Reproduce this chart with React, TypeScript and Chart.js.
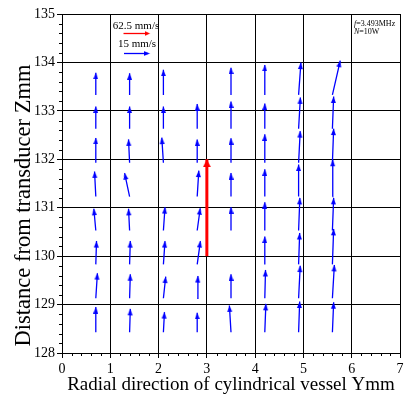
import React, { useEffect, useRef } from "react";
import { Chart, registerables } from "chart.js";

Chart.register(...registerables);

// ---------- data ----------
const xTickValues = [0, 1, 2, 3, 4, 5, 6, 7];
const yTickValues = [128, 129, 130, 131, 132, 133, 134, 135];
const xTitle = "Radial direction of cylindrical vessel Ymm";
const yTitle = "Distance from transducer Zmm";

// measurement grid (mm)
const columnY = [0.7, 1.4, 2.1, 2.8, 3.5, 4.2, 4.9, 5.6];
const rowZ = [133.33, 132.63, 131.93, 131.23, 130.53, 129.83, 129.13, 128.43];

// velocity components (mm/s), one list per column, rows top -> bottom; null = no vector
const velRadial: (number | null)[][] = [
  [0, 0, 0, -0.7, -1.1, 0.4, 0.9, 0],
  [0, 0, -0.6, -2.8, -0.6, 0.4, 0.4, 0.4],
  [0, 0, -0.9, null, 0.9, 0.9, 1.3, 0.6],
  [null, 0, 0, 0.9, 1.7, 1.8, 0.4, 0],
  [0, 0, 0, 0, 0, null, 0, -0.9],
  [0, 0, 0, 0, 0, 0, 0.4, 0.6],
  [1.3, 1.0, 0.9, 0, 0.7, 0.6, 0.9, 0.6],
  [4.4, 0.7, 0.7, 0.2, 0.7, 0.7, 1.1, 0.7],
];
const velAxial: (number | null)[][] = [
  [12.3, 12.4, 13.8, 14.0, 12.1, 13.0, 14.0, 14.0],
  [12.1, 12.4, 13.0, 13.1, 12.1, 13.0, 13.4, 13.0],
  [14.0, 12.4, 14.0, null, 13.0, 13.0, 12.1, 11.2],
  [null, 13.8, 13.0, 14.5, 12.4, 13.0, 12.4, 10.8],
  [15.2, 15.2, 13.7, 13.1, 13.0, null, 13.4, 14.9],
  [16.7, 14.1, 15.8, 15.2, 15.8, 15.5, 15.8, 15.8],
  [18.0, 17.5, 17.6, 17.9, 18.2, 17.5, 18.2, 17.1],
  [19.1, 18.0, 19.0, 20.5, 18.2, 19.8, 18.6, 16.7],
];
const velScale = 0.037; // plotted mm per mm/s

// jet (red) vector: tail and head
const jetRadial = [3, 3];
const jetAxial = [130, 132];

const legendLabels = ["62.5 mm/s", "15 mm/s"];
const conditionLabels = [
  ["f", "=3.493MHz"],
  ["N", "=10W"],
];

const FONT = "'Liberation Serif', 'Times New Roman', serif";
const BLUE = "#0000ff";
const RED = "#ff0000";

function makeHead(color: string, w: number, len: number) {
  const c = document.createElement("canvas");
  c.width = w;
  c.height = Math.ceil(len * 2);
  const g = c.getContext("2d")!;
  g.fillStyle = color;
  g.beginPath();
  g.moveTo(w / 2, c.height / 2);
  g.lineTo(w, c.height / 2 + len);
  g.lineTo(0, c.height / 2 + len);
  g.closePath();
  g.fill();
  return c;
}

export default function App() {
  const ref = useRef<HTMLCanvasElement | null>(null);

  useEffect(() => {
    if (!ref.current) return;
    const blueHead = makeHead(BLUE, 5, 6.5);
    const redHead = makeHead(RED, 8, 8);
    const redLegendHead = makeHead(RED, 5, 5.5);

    const blueShaft: any[] = [];
    const blueTips: any[] = [];
    columnY.forEach((cx, ci) => {
      rowZ.forEach((rz, ri) => {
        const u = velRadial[ci][ri];
        const v = velAxial[ci][ri];
        if (u == null || v == null) return;
        const hx = cx + u * velScale;
        const hy = rz + v * velScale;
        blueShaft.push({ x: cx, y: rz }, { x: hx, y: hy }, { x: hx, y: null });
        blueTips.push({ x: hx, y: hy, tx: cx, ty: rz });
      });
    });
    const redShaft = [
      { x: jetRadial[0], y: jetAxial[0] },
      { x: jetRadial[1], y: jetAxial[1] },
    ];
    const redTips = [{ x: jetRadial[1], y: jetAxial[1], tx: jetRadial[0], ty: jetAxial[0] }];

    const rot = (ctx: any) => {
      const r = ctx.raw;
      if (!r) return 0;
      const xs = ctx.chart.scales.x;
      const ys = ctx.chart.scales.y;
      const dx = xs.getPixelForValue(r.x) - xs.getPixelForValue(r.tx);
      const dy = ys.getPixelForValue(r.y) - ys.getPixelForValue(r.ty);
      return (Math.atan2(dx, -dy) * 180) / Math.PI;
    };

    const drawHeadPx = (ctx: CanvasRenderingContext2D, img: HTMLCanvasElement, x: number, y: number, ang: number) => {
      ctx.save();
      ctx.translate(x, y);
      ctx.rotate(ang);
      ctx.drawImage(img, -img.width / 2, -img.height / 2);
      ctx.restore();
    };

    const extras = {
      id: "extras",
      afterDraw(chart: any) {
        const ctx: CanvasRenderingContext2D = chart.ctx;
        const { left, right, top, bottom } = chart.chartArea;
        const xs = chart.scales.x;
        const ys = chart.scales.y;
        ctx.save();
        // minor ticks
        ctx.strokeStyle = "#000";
        ctx.lineWidth = 1;
        ctx.beginPath();
        for (let i = 0; i <= 35; i++) {
          if (i % 5 === 0) continue;
          const px = Math.round(xs.getPixelForValue(i / 5)) + 0.5;
          ctx.moveTo(px, bottom);
          ctx.lineTo(px, bottom + 3);
          const py = Math.round(ys.getPixelForValue(128 + i / 5)) + 0.5;
          ctx.moveTo(left, py);
          ctx.lineTo(left - 3, py);
        }
        ctx.stroke();

        // y-axis title
        ctx.save();
        ctx.fillStyle = "#000";
        ctx.font = `22.5px ${FONT}`;
        ctx.textAlign = "center";
        ctx.textBaseline = "alphabetic";
        ctx.translate(29.5, (top + bottom) / 2 + 22);
        ctx.rotate(-Math.PI / 2);
        ctx.fillText(yTitle, 0, 0);
        ctx.restore();

        // legend
        ctx.fillStyle = "#000";
        ctx.font = `11px ${FONT}`;
        ctx.textAlign = "center";
        ctx.textBaseline = "alphabetic";
        ctx.fillText(legendLabels[0], left + 74, top + 14.5);
        ctx.fillText(legendLabels[1], left + 75, top + 33);
        ctx.lineWidth = 1.3;
        ctx.strokeStyle = RED;
        ctx.beginPath();
        ctx.moveTo(left + 61.5, top + 19.5);
        ctx.lineTo(left + 86, top + 19.5);
        ctx.stroke();
        drawHeadPx(ctx, redLegendHead, left + 88, top + 19.5, Math.PI / 2);
        ctx.strokeStyle = BLUE;
        ctx.beginPath();
        ctx.moveTo(left + 62, top + 39.5);
        ctx.lineTo(left + 86, top + 39.5);
        ctx.stroke();
        drawHeadPx(ctx, blueHead, left + 88, top + 39.5, Math.PI / 2);

        // conditions
        ctx.textAlign = "left";
        let yy = top + 11.5;
        conditionLabels.forEach(([a, b]) => {
          let xx = right - 46;
          ctx.font = `italic 8px ${FONT}`;
          ctx.fillText(a, xx, yy);
          xx += ctx.measureText(a).width;
          ctx.font = `8px ${FONT}`;
          ctx.fillText(b, xx, yy);
          yy += 8.5;
        });
        ctx.restore();
      },
    };

    const chart = new Chart(ref.current, {
      type: "scatter",
      data: {
        datasets: [
          {
            data: redTips,
            pointStyle: redHead as any,
            pointRadius: 4,
            pointRotation: rot as any,
            showLine: false,
          },
          {
            data: redShaft,
            showLine: true,
            borderColor: RED,
            borderWidth: 3,
            pointRadius: 0,
          },
          {
            data: blueTips,
            pointStyle: blueHead as any,
            pointRadius: 3,
            pointRotation: rot as any,
            showLine: false,
          },
          {
            data: blueShaft,
            showLine: true,
            spanGaps: false,
            borderColor: BLUE,
            borderWidth: 1.3,
            pointRadius: 0,
          },
        ] as any,
      },
      options: {
        animation: false,
        responsive: false,
        events: [],
        layout: { padding: { top: 14, right: 2, left: 0, bottom: 0 } },
        plugins: { legend: { display: false }, tooltip: { enabled: false } },
        scales: {
          x: {
            type: "linear",
            min: 0,
            max: 7,
            afterBuildTicks: (s: any) => {
              s.ticks = xTickValues.map((v) => ({ value: v }));
            },
            afterFit: (s: any) => {
              s.height = 47;
              s.paddingLeft = 0;
              s.paddingRight = 0;
            },
            grid: { color: "#000", lineWidth: 1, tickLength: 5, tickColor: "#000" },
            border: { display: true, color: "#000", width: 1 },
            ticks: { color: "#000", font: { family: FONT, size: 14 }, padding: 3, maxRotation: 0, autoSkip: false },
            title: { display: true, text: xTitle, color: "#000", font: { family: FONT, size: 19 }, padding: { top: 0, bottom: 4 } },
          },
          y: {
            type: "linear",
            min: 128,
            max: 135,
            afterBuildTicks: (s: any) => {
              s.ticks = yTickValues.map((v) => ({ value: v }));
            },
            afterFit: (s: any) => {
              s.width = 62;
              s.paddingTop = 0;
              s.paddingBottom = 0;
            },
            grid: { color: "#000", lineWidth: 1, tickLength: 5, tickColor: "#000" },
            border: { display: true, color: "#000", width: 1 },
            ticks: { color: "#000", font: { family: FONT, size: 14 }, padding: 2, autoSkip: false },
            title: { display: false },
          },
        },
      } as any,
      plugins: [extras],
    });
    return () => chart.destroy();
  }, []);

  return (
    <div style={{ position: "fixed", left: 0, top: 0, width: 405, height: 400, background: "#fff" }}>
      <canvas ref={ref} width={405} height={400} style={{ display: "block" }} />
    </div>
  );
}
